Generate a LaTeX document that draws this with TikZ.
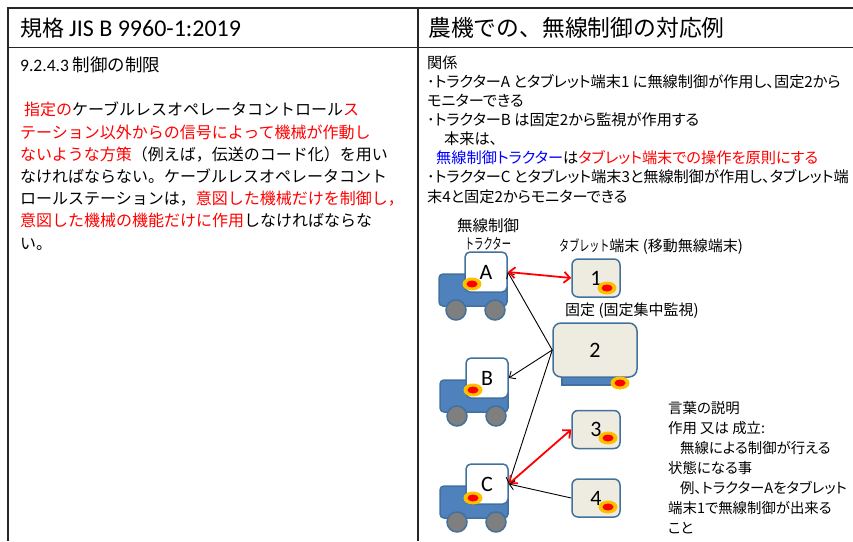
\documentclass[tikz,border=0pt]{standalone}
\usepackage{fontspec}
\setmainfont{Noto Sans CJK JP}
\newfontfamily\jpprop{Noto Sans CJK JP}[RawFeature=+palt]
\newfontfamily\calibri{Carlito}
\usetikzlibrary{positioning,arrows.meta,shapes.geometric}

\definecolor{tblue}{HTML}{41719C}
\definecolor{tbody}{HTML}{4F81BD}
\definecolor{tpaper}{HTML}{EEECE1}
\definecolor{tgray}{HTML}{7F7F7F}
\definecolor{tyellow}{HTML}{FFC000}
\definecolor{tred}{HTML}{FF0000}
\definecolor{tlink}{HTML}{0000FF}

\newcommand{\setfs}[2]{\fontsize{#1}{#2}\selectfont}

\begin{document}
\begin{tikzpicture}[
    x=1pt, y=-1pt,
    rule/.style={line width=1.8pt, black!85},
    txt/.style={inner sep=0pt, align=left, anchor=north west},
    lbl/.style={inner sep=0pt, font=\setfs{15}{15}},
    cab/.style={draw=tblue, line width=1.5pt, fill=white, rounded corners=5pt, minimum width=42pt, minimum height=40pt, inner sep=0pt, font=\calibri\setfs{22}{22}},
    body/.style={draw=tblue, line width=1.5pt, fill=tbody, rounded corners=4pt, minimum width=68pt, minimum height=32pt},
    wheel/.style={circle, draw=tblue, line width=1.5pt, fill=tgray, minimum size=20pt, inner sep=0pt},
    tab/.style={draw=tblue, line width=1.5pt, fill=tpaper, rounded corners=6pt, minimum width=48pt, minimum height=38pt, inner sep=0pt, font=\calibri\setfs{22}{22}},
    dot/.style={ellipse, fill=tyellow, minimum width=19pt, minimum height=13pt, inner sep=0pt,
        path picture={\fill[tred] (path picture bounding box.center) ellipse (5.5pt and 3.5pt);}},
    ctrl/.style={{Straight Barb[length=6pt,width=11pt]}-{Straight Barb[length=6pt,width=11pt]}, tred, line width=1.8pt},
    mon/.style={-{Straight Barb[length=5pt,width=9pt]}, black, line width=0.9pt}
]
\useasboundingbox (0,0) rectangle (853,541);

% table rules
\draw[rule] (853,8) -| (8,541);
\draw[rule] (8,47.5) -- (853,47.5);
\draw[rule] (418,8) -- (418,541);

% header row
\node[anchor=west, inner sep=0pt, font=\setfs{22}{22}] (stdhead) at (20,28) {規格 {\calibri\setfs{24}{24}JIS B 9960-1:2019}};
\node[anchor=west, inner sep=0pt, font=\setfs{22.8}{22.8}] (apphead) at (428,28) {農機での、無線制御の対応例};

% left column: clause text
\node[anchor=west, inner sep=0pt, font=\setfs{17.5}{17.5}] (clause) at (20,65) {{\calibri 9.2.4.3} 制御の制限};
\node[txt, font=\setfs{16}{22.2}] (req) at (20,102) {%
\hspace*{4pt}\textcolor{tred}{指定の}ケーブルレスオペレータコントロール\textcolor{tred}{ス}\\
\textcolor{tred}{テーション以外からの信号によって機械が作動し}\\
\textcolor{tred}{ないような方策}（例えば，伝送のコード化）を用い\\
なければならない。ケーブルレスオペレータコント\\
ロールステーションは，\textcolor{tred}{意図した機械だけを制御し，}\\
\textcolor{tred}{意図した機械の機能だけに作用}しなければならな\\
い。};

% right column: relations
\node[txt, font=\jpprop\setfs{15.2}{19.1}] (rel) at (427,55.5) {%
関係\\
･トラクターA とタブレット端末1 に無線制御が作用し、固定2から\\
モニターできる\\
･トラクターB は固定2から監視が作用する\\
\hspace*{17pt}本来は、\\
\hspace*{9pt}\textcolor{tlink}{無線制御トラクター}は\textcolor{tred}{タブレット端末での操作を原則にする}\\
･トラクターC とタブレット端末3と無線制御が作用し、タブレット端\\
末4と固定2からモニターできる};

% tractors
\node[body] (bodyA) at (473,290) {};
\node[cab] (cabA) at (486,272) {A};
\node[wheel] (wA1) at (456,310) {};
\node[wheel] (wA2) at (495,310) {};
\node[dot] (dA) at (472,284) {};

\node[body] (bodyB) at (474,396) {};
\node[cab] (cabB) at (487,378) {B};
\node[wheel] (wB1) at (457,416) {};
\node[wheel] (wB2) at (496,416) {};
\node[dot] (dB) at (473,390) {};

\node[body] (bodyC) at (474,502) {};
\node[cab] (cabC) at (487,484) {C};
\node[wheel] (wC1) at (457,522) {};
\node[wheel] (wC2) at (496,522) {};
\node[dot] (dC) at (473,498) {};

\node[lbl, above=1pt of cabA, xshift=2pt] (rcsub) {\scalebox{0.62}[1]{トラクター}};
\node[lbl, font=\setfs{15.5}{15.5}, above=4pt of rcsub] (rclbl) {無線制御};

% tablets and fixed station
\node[tab] (t1) at (596,278) {1};
\node[dot] (d1) at (607,288) {};
\node[tab] (t3) at (596,429.5) {3};
\node[dot] (d3) at (608,438) {};
\node[tab] (t4) at (596,498) {4};
\node[dot] (d4) at (608,507) {};

\node[draw=tblue, line width=1.2pt, fill=tbody, minimum width=56pt, minimum height=8pt, inner sep=0pt] (base2) at (590,381) {};
\node[tab, rounded corners=8pt, minimum width=84pt, minimum height=54pt] (f2) at (595,350) {2};
\node[dot] (d2) at (620,383) {};

\node[lbl, anchor=west] (tablbl) at (559,247) {\scalebox{0.67}[1]{タブレット}端末 (移動無線端末)};
\node[lbl, anchor=west] (fixlbl) at (565,311) {固定 (固定集中監視)};

% links
\draw[mon] (f2.west) -- (cabA.east);
\draw[mon] (f2.west) -- (cabB.east);
\draw[mon] (f2.west) -- (cabC.east);
\draw[ctrl] (cabA.east) -- (t1.west);
\draw[ctrl] (cabC.east) -- (t3.west);
\draw[mon] (t4.west) -- (cabC.east);

% glossary
\node[txt, font=\jpprop\setfs{14.4}{20}] (terms) at (668,401) {%
言葉の説明\\
作用 又は 成立:\\
\hspace*{12pt}無線による制御が行える\\
状態になる事\\
\hspace*{12pt}例、トラクターAをタブレット\\
端末1で無線制御が出来る\\
こと};
\end{tikzpicture}
\end{document}
